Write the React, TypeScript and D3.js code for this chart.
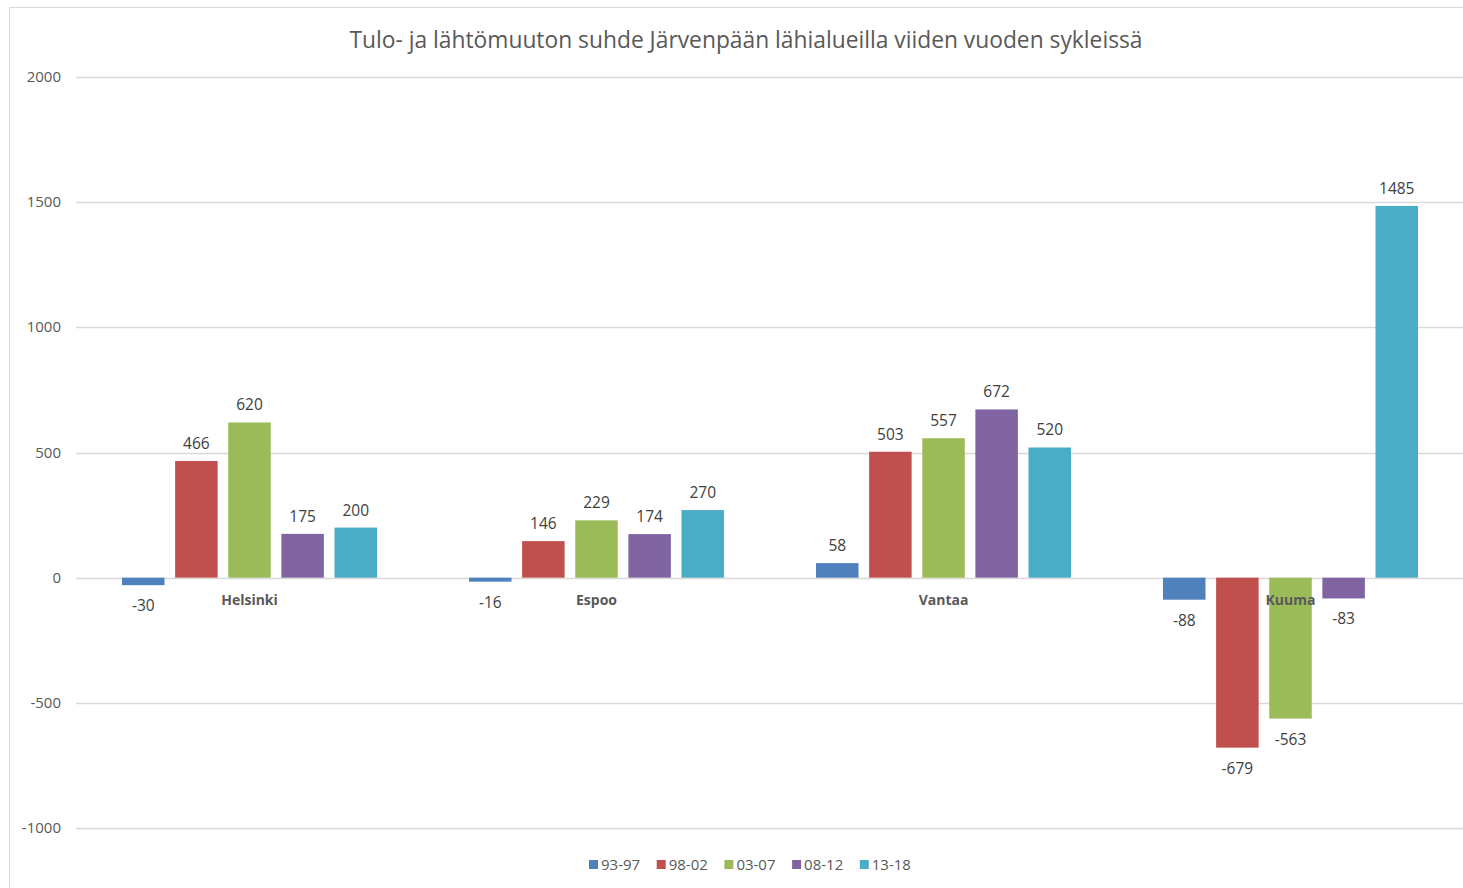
import React from "react";
import * as d3 from "d3";

const categories = ["Helsinki", "Espoo", "Vantaa", "Kuuma"];
const seriesNames = ["93-97", "98-02", "03-07", "08-12", "13-18"];
const seriesColors = ["#4F81BD", "#C0504D", "#9BBB59", "#8064A2", "#4BACC6"];
const s9397 = [-30, -16, 58, -88];
const s9802 = [466, 146, 503, -679];
const s0307 = [620, 229, 557, -563];
const s0812 = [175, 174, 672, -83];
const s1318 = [200, 270, 520, 1485];
const seriesValues = [s9397, s9802, s0307, s0812, s1318];
const yTicks = [-1000, -500, 0, 500, 1000, 1500, 2000];
const title = "Tulo- ja lähtömuuton suhde Järvenpään lähialueilla viiden vuoden sykleissä";

const W = 1463;
const H = 888;
const font = "'Open Sans', 'Liberation Sans', sans-serif";

export default function App() {
  const x0 = d3.scaleBand<string>().domain(categories).range([76, 1464]).paddingInner(0).paddingOuter(0);
  const x1 = d3
    .scaleBand<string>()
    .domain(seriesNames)
    .range([46, x0.bandwidth() - 46])
    .paddingInner(0.2)
    .paddingOuter(0);
  const y = d3.scaleLinear().domain([-1000, 2000]).range([828, 77]);

  return (
    <div style={{ position: "absolute", left: 0, top: 0 }}>
      <svg width={W} height={H} style={{ display: "block", background: "#fff" }}>
        <rect x={9.5} y={7.5} width={W} height={H} fill="#fff" stroke="#d9d9d9" strokeWidth={1} />
        <text
          x={746}
          y={48}
          textAnchor="middle"
          fontFamily={font}
          fontSize={22.8}
          fill="#595959"
        >
          {title}
        </text>
        {yTicks.map((t) => (
          <g key={t}>
            <line x1={76} x2={W} y1={Math.round(y(t)) + 0.5} y2={Math.round(y(t)) + 0.5} stroke="#d9d9d9" strokeWidth={1.5} />
            <text
              x={61}
              y={y(t) + 5}
              textAnchor="end"
              fontFamily={font}
              fontSize={15}
              fill="#595959"
            >
              {t}
            </text>
          </g>
        ))}
        {categories.map((c, ci) => (
          <g key={c} transform={`translate(${x0(c)},0)`}>
            {seriesNames.map((s, si) => {
              const v = seriesValues[si][ci];
              const top = y(Math.max(0, v));
              const bot = y(Math.min(0, v));
              const bx = x1(s)!;
              const bw = x1.bandwidth();
              return (
                <g key={s}>
                  <rect x={bx} y={top} width={bw} height={bot - top} fill={seriesColors[si]} />
                  <text
                    x={bx + bw / 2}
                    y={v >= 0 ? top - 12 : bot + 26}
                    textAnchor="middle"
                    fontFamily={font}
                    fontSize={15.5}
                    fill="#404040"
                  >
                    {v}
                  </text>
                </g>
              );
            })}
          </g>
        ))}
        {categories.map((c) => (
          <text
            key={c}
            x={x0(c)! + x0.bandwidth() / 2}
            y={605}
            textAnchor="middle"
            fontFamily={font}
            fontSize={14}
            fontWeight="bold"
            fill="#595959"
          >
            {c}
          </text>
        ))}
        {seriesNames.map((s, si) => {
          const lx = 589 + si * 67.7;
          return (
            <g key={s}>
              <rect x={lx} y={860} width={9} height={9} fill={seriesColors[si]} />
              <text x={lx + 12} y={870} fontFamily={font} fontSize={15} fill="#595959">
                {s}
              </text>
            </g>
          );
        })}
      </svg>
    </div>
  );
}
